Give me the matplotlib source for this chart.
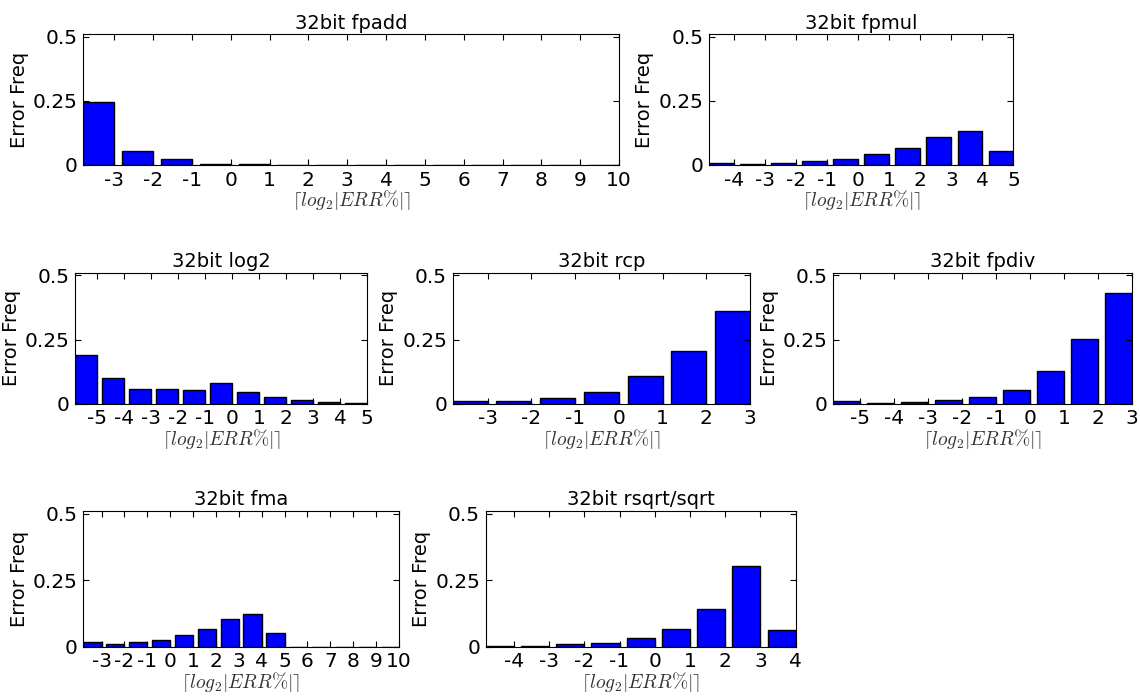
import matplotlib
matplotlib.use("Agg")
import matplotlib.pyplot as plt
import numpy as np

# bin labels (ceil(log2|ERR%|)) and error frequencies per op
fpadd_bins = list(range(-3, 11))
fpadd_freq = [0.245, 0.055, 0.025, 0.004, 0.003, 0, 0, 0, 0, 0, 0, 0, 0, 0]

fpmul_bins = list(range(-4, 6))
fpmul_freq = [0.006, 0.003, 0.006, 0.014, 0.023, 0.042, 0.068, 0.107, 0.134, 0.053]

log2_bins = list(range(-5, 6))
log2_freq = [0.191, 0.099, 0.058, 0.058, 0.054, 0.081, 0.045, 0.025, 0.013, 0.007, 0.003]

rcp_bins = list(range(-3, 4))
rcp_freq = [0.010, 0.010, 0.024, 0.047, 0.109, 0.205, 0.361]

fpdiv_bins = list(range(-5, 4))
fpdiv_freq = [0.009, 0.003, 0.007, 0.014, 0.026, 0.055, 0.129, 0.251, 0.430]

fma_bins = list(range(-3, 11))
fma_freq = [0.017, 0.011, 0.017, 0.026, 0.044, 0.066, 0.102, 0.121, 0.050, 0, 0, 0, 0, 0]

rsqrt_bins = list(range(-4, 5))
rsqrt_freq = [0.002, 0.002, 0.009, 0.015, 0.033, 0.066, 0.141, 0.302, 0.062]

plt.rcParams["mathtext.fontset"] = "cm"
plt.rcParams["font.family"] = "DejaVu Sans"

fig = plt.figure(figsize=(11.4, 6.96), dpi=100)

panels = [
    ("32bit fpadd", fpadd_bins, fpadd_freq, [0.073, 0.763, 0.470, 0.188]),
    ("32bit fpmul", fpmul_bins, fpmul_freq, [0.622, 0.763, 0.267, 0.188]),
    ("32bit log2", log2_bins, log2_freq, [0.066, 0.420, 0.256, 0.188]),
    ("32bit rcp", rcp_bins, rcp_freq, [0.397, 0.420, 0.261, 0.188]),
    ("32bit fpdiv", fpdiv_bins, fpdiv_freq, [0.731, 0.420, 0.262, 0.188]),
    ("32bit fma", fma_bins, fma_freq, [0.073, 0.071, 0.277, 0.195]),
    ("32bit rsqrt/sqrt", rsqrt_bins, rsqrt_freq, [0.426, 0.071, 0.272, 0.195]),
]

for title, bins, freq, rect in panels:
    ax = fig.add_axes(rect)
    n = len(bins)
    x = np.arange(n)
    ax.bar(x, freq, width=0.8, align="edge", color="#0000ff", edgecolor="black", linewidth=1)
    ax.set_xlim(0, n - 0.2)
    ax.set_ylim(0, 0.51)
    ax.set_xticks(x + 0.8)
    ax.set_xticklabels([str(b) for b in bins])
    ax.set_yticks([0, 0.25, 0.5])
    ax.set_yticklabels(["0", "0.25", "0.5"])
    ax.tick_params(direction="in", top=True, right=True, length=4, labelsize=14.5)
    ax.tick_params(axis="x", pad=4)
    ax.tick_params(axis="y", pad=4)
    ax.set_title(title, fontsize=14, pad=4)
    ax.set_ylabel("Error Freq", fontsize=14, labelpad=3)
    ax.set_xlabel(r"$\lceil log_2|ERR\%|\rceil$", fontsize=14, labelpad=-1, color="#333333")

plt.savefig("out.png", dpi=100)
